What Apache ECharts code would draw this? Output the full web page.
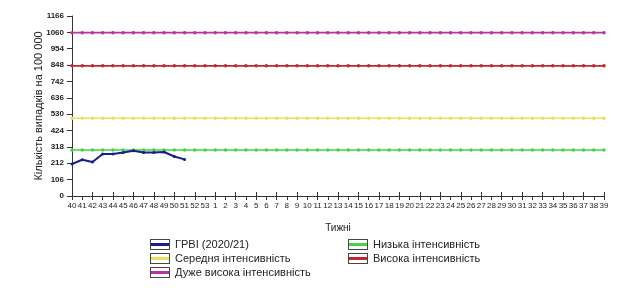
<!DOCTYPE html>
<html><head><meta charset="utf-8">
<script src="https://cdn.jsdelivr.net/npm/echarts@6/dist/echarts.min.js"></script>
<style>html,body{margin:0;padding:0;background:#fff}#c{width:640px;height:295px}</style>
</head><body><div id="c"></div>
<script>
const weeks = ['40','41','42','43','44','45','46','47','48','49','50','51','52','53','1','2','3','4','5','6','7','8','9','10','11','12','13','14','15','16','17','18','19','20','21','22','23','24','25','26','27','28','29','30','31','32','33','34','35','36','37','38','39'];
const yTicks = [0,106,212,318,424,530,636,742,848,954,1060,1166];
const arvi = [207,235,220,272,272,282,293,282,282,285,256,237];
const lowLevel = 298;
const midLevel = 504;
const highLevel = 843;
const veryHighLevel = 1058;
const names = ['ГРВІ (2020/21)','Низька інтенсивність','Середня інтенсивність','Висока інтенсивність','Дуже висока інтенсивність'];
const colors = ['#1c1c8a','#44d444','#e9e25e','#c0282e','#b8339a'];

function iconFor(c){
  const svg = "<svg xmlns='http://www.w3.org/2000/svg' width='20' height='11'><rect x='0.5' y='0.5' width='19' height='10' fill='white' stroke='#444'/><rect x='1' y='4' width='18' height='3' fill='"+c+"'/></svg>";
  return 'image://data:image/svg+xml;charset=utf-8,' + encodeURIComponent(svg);
}
function flat(v){ return weeks.map(()=>v); }
const levelData = [arvi, flat(lowLevel), flat(midLevel), flat(highLevel), flat(veryHighLevel)];

const series = names.map((n,i)=>({
  name:n, type:'line', data:levelData[i], xAxisIndex:0,
  symbol:'circle', symbolSize: i===0?3:3.5, showSymbol:true,
  lineStyle:{color:colors[i], width: i===0?2:1.6},
  itemStyle:{color:colors[i]}, animation:false, z: i===0?5:3
}));

const chart = echarts.init(document.getElementById('c'));
const legendText = {fontFamily:'Liberation Sans, Arial, sans-serif', fontSize:11, color:'#222'};
chart.setOption({
  animation:false,
  grid:{left:72, right:36, top:16, bottom:99},
  legend:[
    {orient:'vertical', left:145, top:234, itemWidth:20, itemHeight:11, itemGap:3,
     textStyle:legendText, selectedMode:false,
     data:[{name:names[0],icon:iconFor(colors[0])},{name:names[2],icon:iconFor(colors[2])},{name:names[4],icon:iconFor(colors[4])}]},
    {orient:'vertical', left:343, top:234, itemWidth:20, itemHeight:11, itemGap:3,
     textStyle:legendText, selectedMode:false,
     data:[{name:names[1],icon:iconFor(colors[1])},{name:names[3],icon:iconFor(colors[3])}]}
  ],
  xAxis:[{
    type:'category', data:weeks, boundaryGap:false,
    name:'Тижні', nameLocation:'middle', nameGap:27, nameMoveOverlap:false,
    nameTextStyle:{fontFamily:'Liberation Sans, Arial, sans-serif', fontSize:10, color:'#222'},
    axisLine:{lineStyle:{color:'#333', width:1}},
    axisTick:{show:true, alignWithLabel:true, length:4, lineStyle:{color:'#333'}},
    axisLabel:{interval:0, fontSize:8, color:'#222', margin:6, fontFamily:'Liberation Sans, Arial, sans-serif'},
    splitLine:{show:false}
  },{
    type:'category', data:weeks, boundaryGap:false, position:'bottom',
    axisLine:{show:false},
    axisTick:{show:true, inside:true, length:4, lineStyle:{color:'#333'}},
    axisLabel:{show:false}, splitLine:{show:false}
  }],
  yAxis:{
    type:'value', min:0, max:1166, interval:106,
    name:'Кількість випадків на 100 000', nameLocation:'middle', nameGap:28, nameMoveOverlap:false,
    nameTextStyle:{fontFamily:'Liberation Sans, Arial, sans-serif', fontSize:11, color:'#222'},
    axisLine:{show:true, lineStyle:{color:'#333'}},
    axisTick:{show:true, length:5, lineStyle:{color:'#333'}},
    axisLabel:{fontSize:8, color:'#222', margin:8, fontWeight:'bold', fontFamily:'Liberation Sans, Arial, sans-serif',
      formatter:(v)=> yTicks.includes(v)? String(v):''},
    splitLine:{show:false}
  },
  series: series
});
</script></body></html>
